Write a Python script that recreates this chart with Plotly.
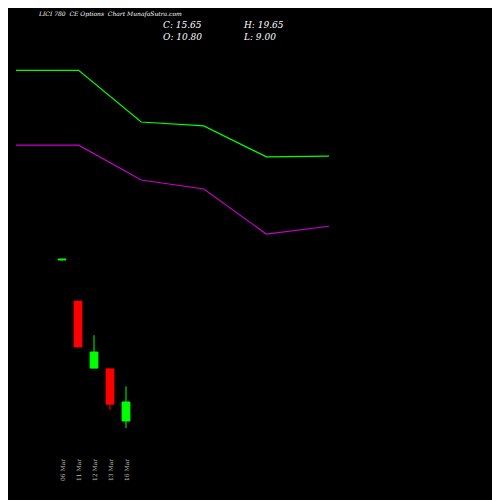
import plotly.graph_objects as go

dates = ["06 Mar", "11 Mar", "12 Mar", "13 Mar", "16 Mar"]
opens = [51.9, 41.4, 24.3, 24.1, 10.80]
highs = [52.1, 41.4, 32.7, 24.1, 19.65]
lows = [51.7, 29.7, 24.3, 13.6, 9.00]
closes = [52.1, 29.7, 28.4, 15.1, 15.65]

line_x = [0, 1, 2, 3, 4, 5]
green_line = [100.3, 100.3, 87.1, 86.1, 78.2, 78.4]
magenta_line = [81.2, 81.2, 72.3, 70.0, 58.5, 60.5]

idx = list(range(len(dates)))
fig = go.Figure()
fig.add_trace(go.Candlestick(x=idx, open=opens, high=highs, low=lows, close=closes,
    increasing=dict(line=dict(color="#00ff00", width=1), fillcolor="#00ff00"),
    decreasing=dict(line=dict(color="#ff0000", width=1), fillcolor="#ff0000"),
    whiskerwidth=0, showlegend=False, xaxis="x", yaxis="y"))
fig.add_trace(go.Scatter(x=line_x, y=green_line, mode="lines", line=dict(color="#00ff00", width=1.2),
    xaxis="x2", yaxis="y", showlegend=False))
fig.add_trace(go.Scatter(x=line_x, y=magenta_line, mode="lines", line=dict(color="#cc00cc", width=1.2),
    xaxis="x2", yaxis="y", showlegend=False))

for i, d in zip(idx, dates):
    fig.add_annotation(x=i, xref="x", y=0.05, yref="paper", text=d, textangle=-90,
        showarrow=False, yanchor="bottom", font=dict(family="DejaVu Serif", size=6, color="#bbbbbb"))

fig.add_annotation(x=0.055, xref="paper", y=1.0, yref="paper", xanchor="left", showarrow=False,
    text="<i>LICI 780  CE Options  Chart MunafaSutra.com</i>", font=dict(family="DejaVu Serif", size=6, color="white"))
fig.add_annotation(x=0.305, xref="paper", y=0.98, yref="paper", xanchor="left", yanchor="top", showarrow=False, align="left",
    text="<i>C: 15.65<br>O: 10.80</i>", font=dict(family="DejaVu Serif", size=9, color="white"))
fig.add_annotation(x=0.465, xref="paper", y=0.98, yref="paper", xanchor="left", yanchor="top", showarrow=False, align="left",
    text="<i>H: 19.65<br>L: 9.00</i>", font=dict(family="DejaVu Serif", size=9, color="white"))

fig.update_layout(width=500, height=500, margin=dict(l=0, r=0, t=0, b=0),
    paper_bgcolor="black", plot_bgcolor="black",
    xaxis=dict(range=[-3.375, 27.875], visible=False, rangeslider=dict(visible=False)),
    xaxis2=dict(range=[-0.128, 7.86], visible=False, overlaying="x"),
    yaxis=dict(range=[-11.4, 116.2], visible=False))
fig.write_html("out.html")
